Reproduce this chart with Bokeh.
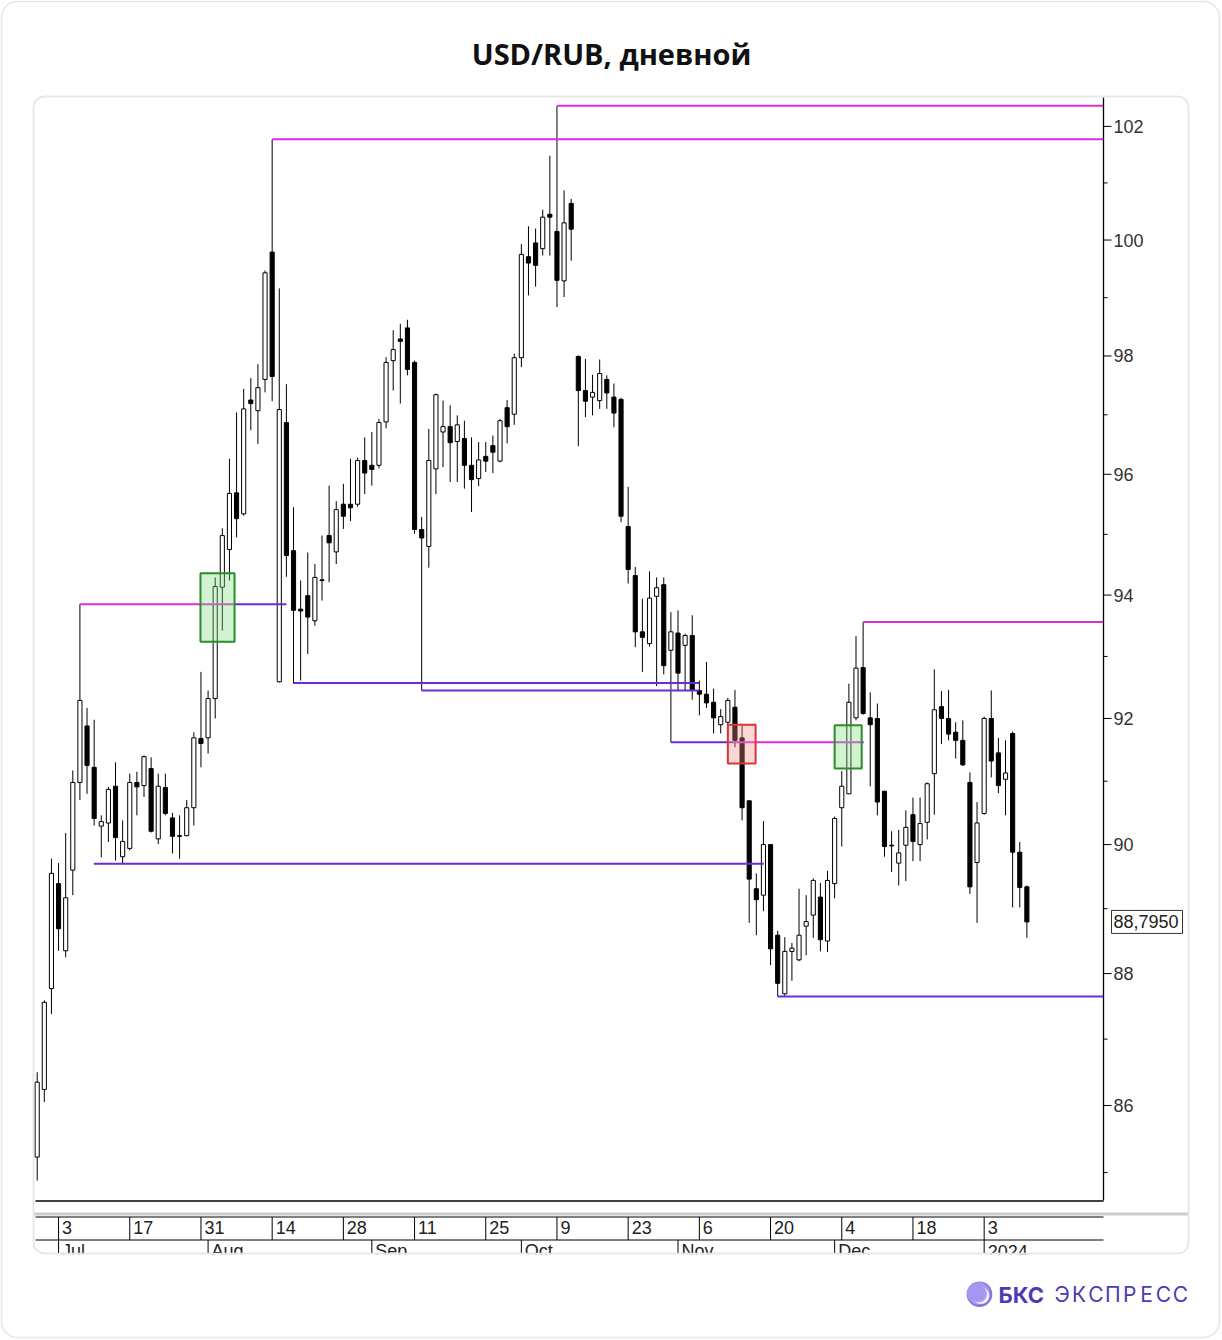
import math
from bokeh.plotting import figure
from bokeh.models import Range1d, LinearScale, ColumnDataSource
from bokeh.core.properties import value
from bokeh.embed import file_html
from bokeh.resources import INLINE

# ---------------- data ----------------
TITLE = "USD/RUB, дневной"

open_ = [85.23, 86.24, 87.77, 89.39, 88.35, 89.60, 90.98, 91.88, 91.22, 90.29,
         90.34, 90.92, 89.81, 89.94, 90.98, 90.93, 91.20, 90.09, 90.90, 90.42,
         90.14, 90.14, 90.58, 91.68, 91.69, 92.32, 94.13, 94.75, 95.69, 95.34,
         97.25, 97.07, 97.60, 99.79, 92.59, 96.87, 94.73, 93.77, 93.99, 93.58,
         94.25, 94.98, 94.71, 95.50, 95.50, 95.50, 96.23, 96.15, 96.15, 96.88,
         97.92, 98.29, 98.48, 97.89, 95.08, 94.80, 96.09, 96.71, 96.80, 96.55,
         96.60, 96.15, 95.93, 96.30, 96.48, 96.22, 97.12, 97.01, 97.97, 99.71,
         99.95, 99.85, 100.45, 100.15, 99.29, 100.64, 97.99, 97.41, 97.30, 97.24,
         97.60, 97.30, 97.26, 95.13, 94.32, 93.40, 93.21, 93.98, 94.17, 93.10,
         93.38, 93.18, 93.34, 92.45, 92.39, 92.26, 91.90, 91.94, 92.18, 91.69,
         90.69, 89.31, 89.21, 90.00, 88.59, 87.69, 88.34, 88.21, 88.73, 88.90,
         89.18, 88.50, 89.39, 90.58, 90.80, 92.01, 92.82, 92.01, 92.00, 90.84,
         89.99, 89.71, 89.99, 90.47, 90.00, 90.35, 91.12, 92.19, 92.00, 91.78,
         91.65, 90.98, 89.72, 90.49, 92.00, 91.45, 91.03, 91.76, 89.88, 89.34]
high_ = [86.50, 87.59, 89.78, 89.71, 90.18, 91.17, 93.85, 92.17, 91.98, 90.46,
         90.91, 91.30, 90.38, 91.12, 91.15, 91.41, 91.38, 91.12, 91.12, 90.50,
         90.46, 90.70, 91.78, 92.75, 92.45, 94.29, 95.10, 96.26, 97.04, 97.44,
         97.62, 97.86, 99.47, 101.77, 99.16, 97.52, 95.45, 94.24, 94.70, 94.51,
         94.98, 95.81, 95.55, 95.84, 96.26, 96.28, 96.62, 96.71, 96.93, 97.98,
         98.44, 98.55, 98.62, 97.92, 95.29, 96.76, 97.36, 97.24, 97.16, 96.99,
         96.90, 96.62, 96.54, 96.54, 96.65, 96.93, 97.25, 98.04, 99.93, 100.24,
         100.20, 100.53, 101.48, 102.36, 100.87, 100.72, 98.01, 97.95, 97.68, 97.94,
         97.67, 97.53, 97.29, 95.79, 94.46, 93.94, 94.39, 94.29, 94.29, 93.72,
         93.75, 93.37, 93.67, 92.61, 92.91, 92.48, 92.15, 92.33, 92.46, 91.89,
         90.69, 89.55, 90.37, 90.00, 88.66, 88.56, 88.47, 89.31, 89.21, 89.47,
         89.40, 89.59, 90.44, 91.16, 92.56, 93.33, 93.56, 92.42, 92.24, 90.85,
         90.21, 90.23, 90.54, 90.74, 90.74, 90.98, 92.79, 92.44, 92.46, 91.94,
         91.97, 91.14, 90.67, 92.03, 92.45, 91.69, 91.65, 91.79, 90.04, 89.36]
low_ = [84.88, 86.05, 87.38, 88.35, 88.25, 89.21, 90.70, 90.80, 90.30, 89.80,
        90.04, 89.75, 89.71, 89.91, 90.46, 90.75, 90.19, 90.01, 90.46, 89.86,
        89.78, 90.13, 90.30, 91.22, 91.44, 92.00, 93.42, 94.24, 94.95, 95.31,
        96.74, 96.51, 97.38, 97.23, 92.58, 94.30, 92.56, 92.61, 93.04, 93.50,
        93.91, 94.21, 94.51, 95.09, 95.22, 95.46, 95.67, 95.81, 96.10, 96.77,
        97.41, 97.19, 97.67, 95.01, 92.45, 94.45, 95.67, 96.12, 95.87, 95.87,
        95.76, 95.37, 95.80, 96.04, 96.02, 96.20, 96.52, 96.83, 97.81, 99.04,
        99.19, 99.73, 99.73, 98.84, 99.01, 99.64, 96.47, 96.96, 96.99, 97.10,
        97.10, 96.79, 95.20, 94.19, 93.15, 92.75, 93.16, 92.52, 92.71, 91.62,
        92.45, 92.45, 92.30, 92.05, 92.17, 91.76, 91.76, 91.74, 91.54, 90.38,
        88.78, 88.59, 88.96, 88.13, 87.65, 87.66, 87.89, 88.19, 88.28, 88.55,
        88.34, 88.33, 89.16, 89.97, 90.80, 91.97, 92.06, 90.92, 90.46, 89.81,
        89.57, 89.36, 89.43, 89.74, 89.74, 90.08, 90.47, 91.59, 91.65, 91.36,
        91.24, 89.23, 88.78, 90.47, 91.06, 90.81, 90.46, 89.02, 89.02, 88.55]
close_ = [86.35, 87.56, 89.55, 88.69, 89.17, 90.98, 92.29, 91.25, 90.41, 90.36,
          90.87, 90.11, 90.05, 90.98, 90.91, 91.39, 90.21, 90.92, 90.49, 90.13,
          90.13, 90.58, 91.69, 91.60, 92.32, 94.14, 94.98, 95.68, 95.26, 97.10,
          97.19, 97.46, 99.43, 97.65, 97.09, 94.65, 93.75, 93.74, 93.64, 94.29,
          94.24, 94.86, 95.41, 95.30, 95.44, 96.23, 96.02, 96.08, 96.87, 97.89,
          98.11, 98.25, 97.77, 95.08, 94.94, 96.23, 97.34, 96.80, 96.53, 96.83,
          96.15, 95.91, 96.24, 96.22, 96.37, 96.90, 96.80, 97.97, 99.75, 99.60,
          99.56, 100.40, 100.40, 99.30, 100.30, 100.19, 97.41, 97.23, 97.38, 97.70,
          97.37, 97.03, 95.30, 94.42, 93.40, 93.31, 93.95, 94.12, 92.85, 93.40,
          92.73, 93.34, 92.45, 92.39, 92.25, 92.01, 92.03, 92.29, 91.65, 90.58,
          89.46, 89.14, 90.00, 88.38, 87.85, 88.34, 88.39, 88.59, 88.80, 89.44,
          88.52, 89.44, 90.41, 90.92, 92.26, 92.81, 92.08, 91.90, 90.67, 89.97,
          89.98, 89.87, 90.27, 90.05, 90.33, 90.96, 92.14, 92.00, 91.75, 91.65,
          91.26, 89.34, 90.34, 92.00, 91.32, 90.93, 91.13, 89.88, 89.33, 88.795]

y_ticks = [86, 88, 90, 92, 94, 96, 98, 100, 102]
y_minor = [85, 87, 89, 91, 93, 95, 97, 99, 101]

day_idx = [3, 13, 23, 33, 43, 53, 63, 73, 83, 93, 103, 113, 123, 133]
day_labels = ["3", "17", "31", "14", "28", "11", "25", "9", "23", "6", "20", "4", "18", "3"]
month_idx = [3, 24, 47, 68, 90, 112, 133]
month_labels = ["Jul", "Aug", "Sep", "Oct", "Nov", "Dec", "2024"]

# analyst levels: price, start index, end index (None = right edge), kind
level_price = [93.85, 93.85, 101.77, 102.37, 92.57, 92.45, 91.62, 91.62, 89.70, 87.65, 93.56]
level_start = [6.0, 27.7, 33.0, 73.0, 36.0, 54.0, 89.0, 97.8, 7.95, 104.0, 116.0]
level_end = [27.7, 35.0, None, None, 93.0, 93.0, 97.8, 116.1, 102.05, None, None]
level_kind = ["res", "sup", "res", "res", "sup", "sup", "sup", "res", "sup", "sup", "res"]

# highlighted boxes
box_left = [22.93, 97.0, 112.0]
box_right = [27.72, 100.9, 115.8]
box_low = [93.24, 91.28, 91.20]
box_high = [94.36, 91.90, 91.89]
box_kind = ["buy", "sell", "buy"]

BRAND_BOLD = "БКС"
BRAND_REG = "ЭКСПРЕСС"

# ---------------- layout ----------------
W, H = 1221, 1339
X0, DX = 36.7, 7.12          # pixel of first candle, candle spacing
A_, B_ = 26664.0, 5738.0     # log mapping of price axis
PLOT_L, PLOT_R, PLOT_T, PLOT_B = 35, 1103, 97, 1200
PANEL_L, PANEL_R, PANEL_T, PANEL_B = 33, 1188, 96, 1253


def i_at(px):
    return (px - X0) / DX


def p_at(py):
    return math.exp((A_ - py) / B_)


MAGENTA = "#dc2fdc"
PURPLE = "#6c2bd9"
BRAND = "#4a3cb4"
FONT = value("Liberation Sans")

p = figure(width=W, height=H, output_backend="svg", toolbar_location=None,
           x_range=Range1d(i_at(0), i_at(W)),
           y_range=Range1d(p_at(H), p_at(0)), y_axis_type="log",
           x_axis_location=None, y_axis_location=None, min_border=0,
           outline_line_color=None, background_fill_color="white",
           border_fill_color="white")
p.grid.visible = False
p.extra_x_ranges = {"px": Range1d(0, W)}
p.extra_y_ranges = {"py": Range1d(H, 0)}
p.extra_x_scales = {"px": LinearScale()}
p.extra_y_scales = {"py": LinearScale()}

PX = dict(x_range_name="px", y_range_name="py")

# card and panel (rounded)
p.quad(left=[1], right=[W - 2], top=[1], bottom=[H - 2], fill_color="white",
       line_color="#e6e6e6", line_width=1.5, border_radius=16, **PX)
p.quad(left=[PANEL_L], right=[PANEL_R], top=[PANEL_T], bottom=[PANEL_B], fill_color="white",
       line_color="#e6e6e6", line_width=1.5, border_radius=11, **PX)

# candles
n = len(open_)
idx = list(range(n))
src = ColumnDataSource(dict(
    x=idx, o=open_, h=high_, l=low_, c=close_,
    top=[max(o, c) for o, c in zip(open_, close_)],
    bot=[min(o, c) for o, c in zip(open_, close_)],
    fill=["white" if c >= o else "black" for o, c in zip(open_, close_)],
))
p.segment(x0="x", y0="l", x1="x", y1="h", source=src, line_color="black", line_width=1)
p.vbar(x="x", width=0.58, top="top", bottom="bot", fill_color="fill",
       line_color="black", line_width=1, source=src)

# levels
right_i = i_at(PLOT_R)
p.segment(x0=level_start, y0=level_price,
          x1=[e if e is not None else right_i for e in level_end], y1=level_price,
          line_color=[MAGENTA if k == "res" else PURPLE for k in level_kind],
          line_width=2)

# boxes
p.quad(left=box_left, right=box_right, bottom=box_low, top=box_high,
       fill_color=["#7ddc7d" if k == "buy" else "#f28c8c" for k in box_kind],
       fill_alpha=0.35,
       line_color=["#2a8c2a" if k == "buy" else "#e23333" for k in box_kind],
       line_width=2)

# price axis (right)
p.segment(x0=[PLOT_R, PLOT_L], y0=[PLOT_T, PLOT_B + 0.5], x1=[PLOT_R, PLOT_R], y1=[PLOT_B, PLOT_B + 0.5],
          line_color="black", line_width=1.3, **PX)
p.segment(x0=[PLOT_R] * len(y_ticks), y0=y_ticks, x1=[PLOT_R + 8] * len(y_ticks), y1=y_ticks,
          x_range_name="px", line_color="black", line_width=1)
p.segment(x0=[PLOT_R] * len(y_minor), y0=y_minor, x1=[PLOT_R + 4] * len(y_minor), y1=y_minor,
          x_range_name="px", line_color="black", line_width=1)
p.text(x=[PLOT_R + 10] * len(y_ticks), y=y_ticks, text=[str(t) for t in y_ticks],
       x_range_name="px", text_font=FONT, text_font_size="18px", text_color="#333333",
       text_align="left", text_baseline="middle")

last = close_[-1]
p.rect(x=[PLOT_R + 43.5], y=[last], width=71, height=23, height_units="screen",
       x_range_name="px", fill_color="white", line_color="#333333", line_width=1)
p.text(x=[PLOT_R + 10], y=[last], text=[f"{last:.4f}".replace(".", ",")],
       x_range_name="px", text_font=FONT, text_font_size="18px", text_color="#222222",
       text_align="left", text_baseline="middle")

# date area
ROW_T, ROW_B = 1216.5, 1239.5
p.segment(x0=[PANEL_L], y0=[1213.5], x1=[PANEL_R], y1=[1213.5],
          line_color="#cdcdcd", line_width=3, **PX)
p.segment(x0=[PLOT_L, PLOT_L], y0=[ROW_T, ROW_B], x1=[PLOT_R, PLOT_R], y1=[ROW_T, ROW_B],
          line_color="black", line_width=1, **PX)
p.segment(x0=day_idx, y0=[ROW_T] * len(day_idx), x1=day_idx, y1=[ROW_B] * len(day_idx),
          y_range_name="py", line_color="black", line_width=1)
p.segment(x0=month_idx, y0=[ROW_B] * len(month_idx), x1=month_idx, y1=[PANEL_B] * len(month_idx),
          y_range_name="py", line_color="black", line_width=1)
p.text(x=day_idx, y=[1227.2] * len(day_idx), text=day_labels, x_offset=3.5, y_range_name="py",
       text_font=FONT, text_font_size="18px", text_color="#222222",
       text_align="left", text_baseline="middle")
p.text(x=month_idx, y=[1250.5] * len(month_idx), text=month_labels, x_offset=3.5, y_range_name="py",
       text_font=FONT, text_font_size="18px", text_color="#222222",
       text_align="left", text_baseline="middle")

# clip below panel, then redraw the panel's lower edge
p.quad(left=[PANEL_L - 2], right=[PANEL_R + 2], top=[PANEL_B + 0.8], bottom=[PANEL_B + 20],
       fill_color="white", line_color=None, **PX)
p.quad(left=[PANEL_L], right=[PANEL_R], top=[PANEL_T], bottom=[PANEL_B], fill_color=None,
       line_color="#e6e6e6", line_width=1.5, border_radius=11, **PX)

# title
p.text(x=[611], y=[53], text=[TITLE], text_font=value("Open Sans"), text_font_style="bold",
       text_font_size="29px", text_color="#111111", text_align="center",
       text_baseline="middle", **PX)

# watermark
p.circle(x=[979, 978, 980.5, 978.2], y=[1293.7, 1292.8, 1295.2, 1293.6],
         radius=[12.8, 11.4, 8.4, 8.2],
         fill_color=["#8475e4", "#a497f0", "#f1eefe", "#a497f0"], line_color=None, **PX)
p.text(x=[998], y=[1294], text=[BRAND_BOLD], text_font=value("Inter"), text_font_style="bold",
       text_font_size="22px", text_color=BRAND, text_align="left", text_baseline="middle", **PX)
step = (1188.3 - 1053.3) / len(BRAND_REG)
p.text(x=[1053.3 + step * (k + 0.5) for k in range(len(BRAND_REG))], y=[1294] * len(BRAND_REG),
       text=list(BRAND_REG), text_font=value("Inter"), text_font_size="21px",
       text_color=BRAND, text_align="center", text_baseline="middle", **PX)

open("out.html", "w").write(file_html(p, INLINE))
